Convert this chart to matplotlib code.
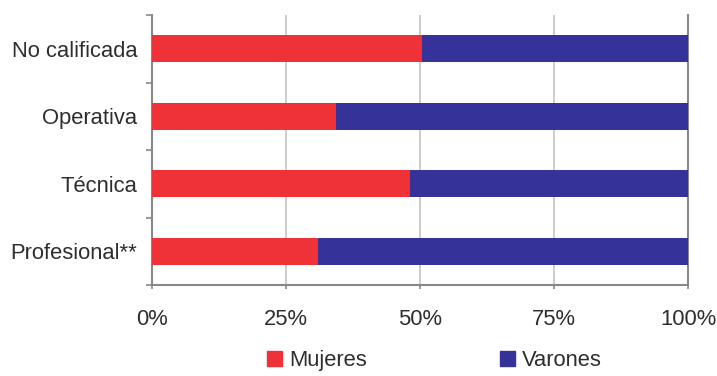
import numpy as np
from matplotlib import pyplot as plt
from matplotlib.patches import Patch

plt.rcParams['font.family'] = ['Liberation Sans', 'DejaVu Sans']

# Data (share of each group, %)
categorias = ['No calificada', 'Operativa', 'Técnica', 'Profesional**']
mujeres = [50.4, 34.4, 48.2, 31.0]
varones = [100 - m for m in mujeres]
xticks = [0, 25, 50, 75, 100]
xlabels = ['0%', '25%', '50%', '75%', '100%']

rojo = '#EE3237'
azul = '#353399'
gris = '#888888'
texto = '#2E2E2E'

fig = plt.figure(figsize=(7.17, 3.76), dpi=100)
ax = fig.add_axes([0.2116, 0.242, 0.9596 - 0.2116, 0.960 - 0.242])

y = np.arange(len(categorias))[::-1]
ax.barh(y, mujeres, height=0.4, color=rojo, label='Mujeres', zorder=3)
ax.barh(y, varones, left=mujeres, height=0.4, color=azul, label='Varones', zorder=3)

ax.set_xlim(0, 100)
ax.set_ylim(-0.5, len(categorias) - 0.5)
ax.set_xticks(xticks)
ax.set_xticklabels(xlabels, fontsize=15.8, color=texto)
ax.set_yticks(y)
ax.set_yticklabels(categorias, fontsize=15.8, color=texto)
ax.set_yticks(np.arange(len(categorias) + 1) - 0.5, minor=True)

ax.tick_params(axis='y', which='major', length=0, pad=10.5)
ax.tick_params(axis='y', which='minor', length=4.5, width=1.2, color=gris, direction='out')
ax.tick_params(axis='x', which='major', length=3, width=1.2, color=gris, pad=14)

ax.grid(axis='x', color='#C8C8C8', linewidth=1.3, zorder=0)
ax.spines['top'].set_visible(False)
for s in ['left', 'bottom', 'right']:
    ax.spines[s].set_color(gris)
    ax.spines[s].set_linewidth(1.5)

handles = [Patch(color=rojo, label='Mujeres'), Patch(color=azul, label='Varones')]
fig.legend(handles=handles, loc='center', bbox_to_anchor=(0.606, 0.04),
           ncol=2, frameon=False, fontsize=15.8, handlelength=0.68,
           handleheight=0.68, handletextpad=0.3, columnspacing=6.1,
           labelcolor=texto)

fig.savefig('out.png', dpi=100)
